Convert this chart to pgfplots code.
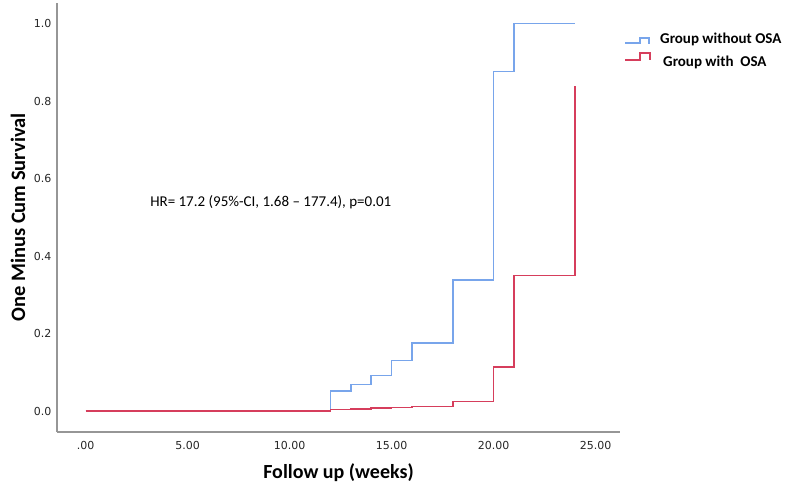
\documentclass[border=0pt]{standalone}
\usepackage{fontspec}
\setmainfont{Carlito}
\newfontfamily\tickfont{DejaVu Sans}
\usepackage{pgfplots}
\pgfplotsset{compat=1.18}
\definecolor{blueline}{RGB}{120,165,235}
\definecolor{redline}{RGB}{214,62,92}
\definecolor{axisgray}{RGB}{150,150,150}
\begin{document}
\begin{tikzpicture}
\begin{axis}[
  width=563pt, height=429pt, scale only axis,
  xmin=-1.4, xmax=26.2, ymin=-0.054, ymax=1.053,
  axis x line=bottom, axis y line=left,
  axis line style={-, draw=axisgray, line width=1.4pt},
  major tick length=0pt,
  xtick={0,5,10,15,20,25},
  xticklabels={.00,5.00,10.00,15.00,20.00,25.00},
  ytick={0,0.2,0.4,0.6,0.8,1.0},
  yticklabels={0.0,0.2,0.4,0.6,0.8,1.0},
  ticklabel style={font=\tickfont\fontsize{11}{13}\selectfont, text=black!85},
  xticklabel style={anchor=center, yshift=-13pt},
  yticklabel style={anchor=east, xshift=-2pt},
  xlabel={Follow up (weeks)},
  ylabel={One Minus Cum Survival},
  xlabel style={at={(rel axis cs:0.5,0)}, anchor=center, yshift=-41pt, font=\bfseries\fontsize{20}{22}\selectfont},
  ylabel style={at={(rel axis cs:0,0.5)}, anchor=center, yshift=39pt, font=\bfseries\fontsize{20.5}{22}\selectfont},
]
% group without OSA
\addplot[const plot, blueline, line width=1.6pt] coordinates {
  (0,0) (12,0.052) (13,0.069) (14,0.092) (15,0.131) (16,0.175)
  (18,0.338) (20,0.876) (21,1.0) (24,1.0)
};
% group with OSA
\addplot[const plot, redline, line width=1.6pt] coordinates {
  (0,0) (12,0.004) (13,0.006) (14,0.008) (15,0.0095) (16,0.012)
  (18,0.025) (20,0.114) (21,0.35) (24,0.84)
};
\node[anchor=base west, font=\fontsize{15}{18}\selectfont] at (axis cs:3.0,0.529)
  {HR= 17.2 (95\%-CI, 1.68 – 177.4), p=0.01};
\end{axis}
% legend
\begin{scope}[shift={(current axis.north west)}, x=1pt, y=-1pt]
  \draw[blueline, line width=1.6pt] (568,40.3) -- (583,40.3) -- (583,35.3) -- (592,35.3) -- (592,41);
  \draw[redline, line width=1.6pt] (568,57) -- (583,57) -- (583,50) -- (593,50) -- (593,57);
  \node[anchor=west, inner sep=0pt, font=\bfseries\fontsize{15}{18}\selectfont] at (603,36) {Group without OSA};
  \node[anchor=west, inner sep=0pt, font=\bfseries\fontsize{15}{18}\selectfont] at (606,59) {Group with\ \ OSA};
\end{scope}
\pgfresetboundingbox
\useasboundingbox ([shift={(-57pt,-54pt)}]current axis.south west) rectangle ([shift={(732pt,3pt)}]current axis.north west);
\end{tikzpicture}
\end{document}
